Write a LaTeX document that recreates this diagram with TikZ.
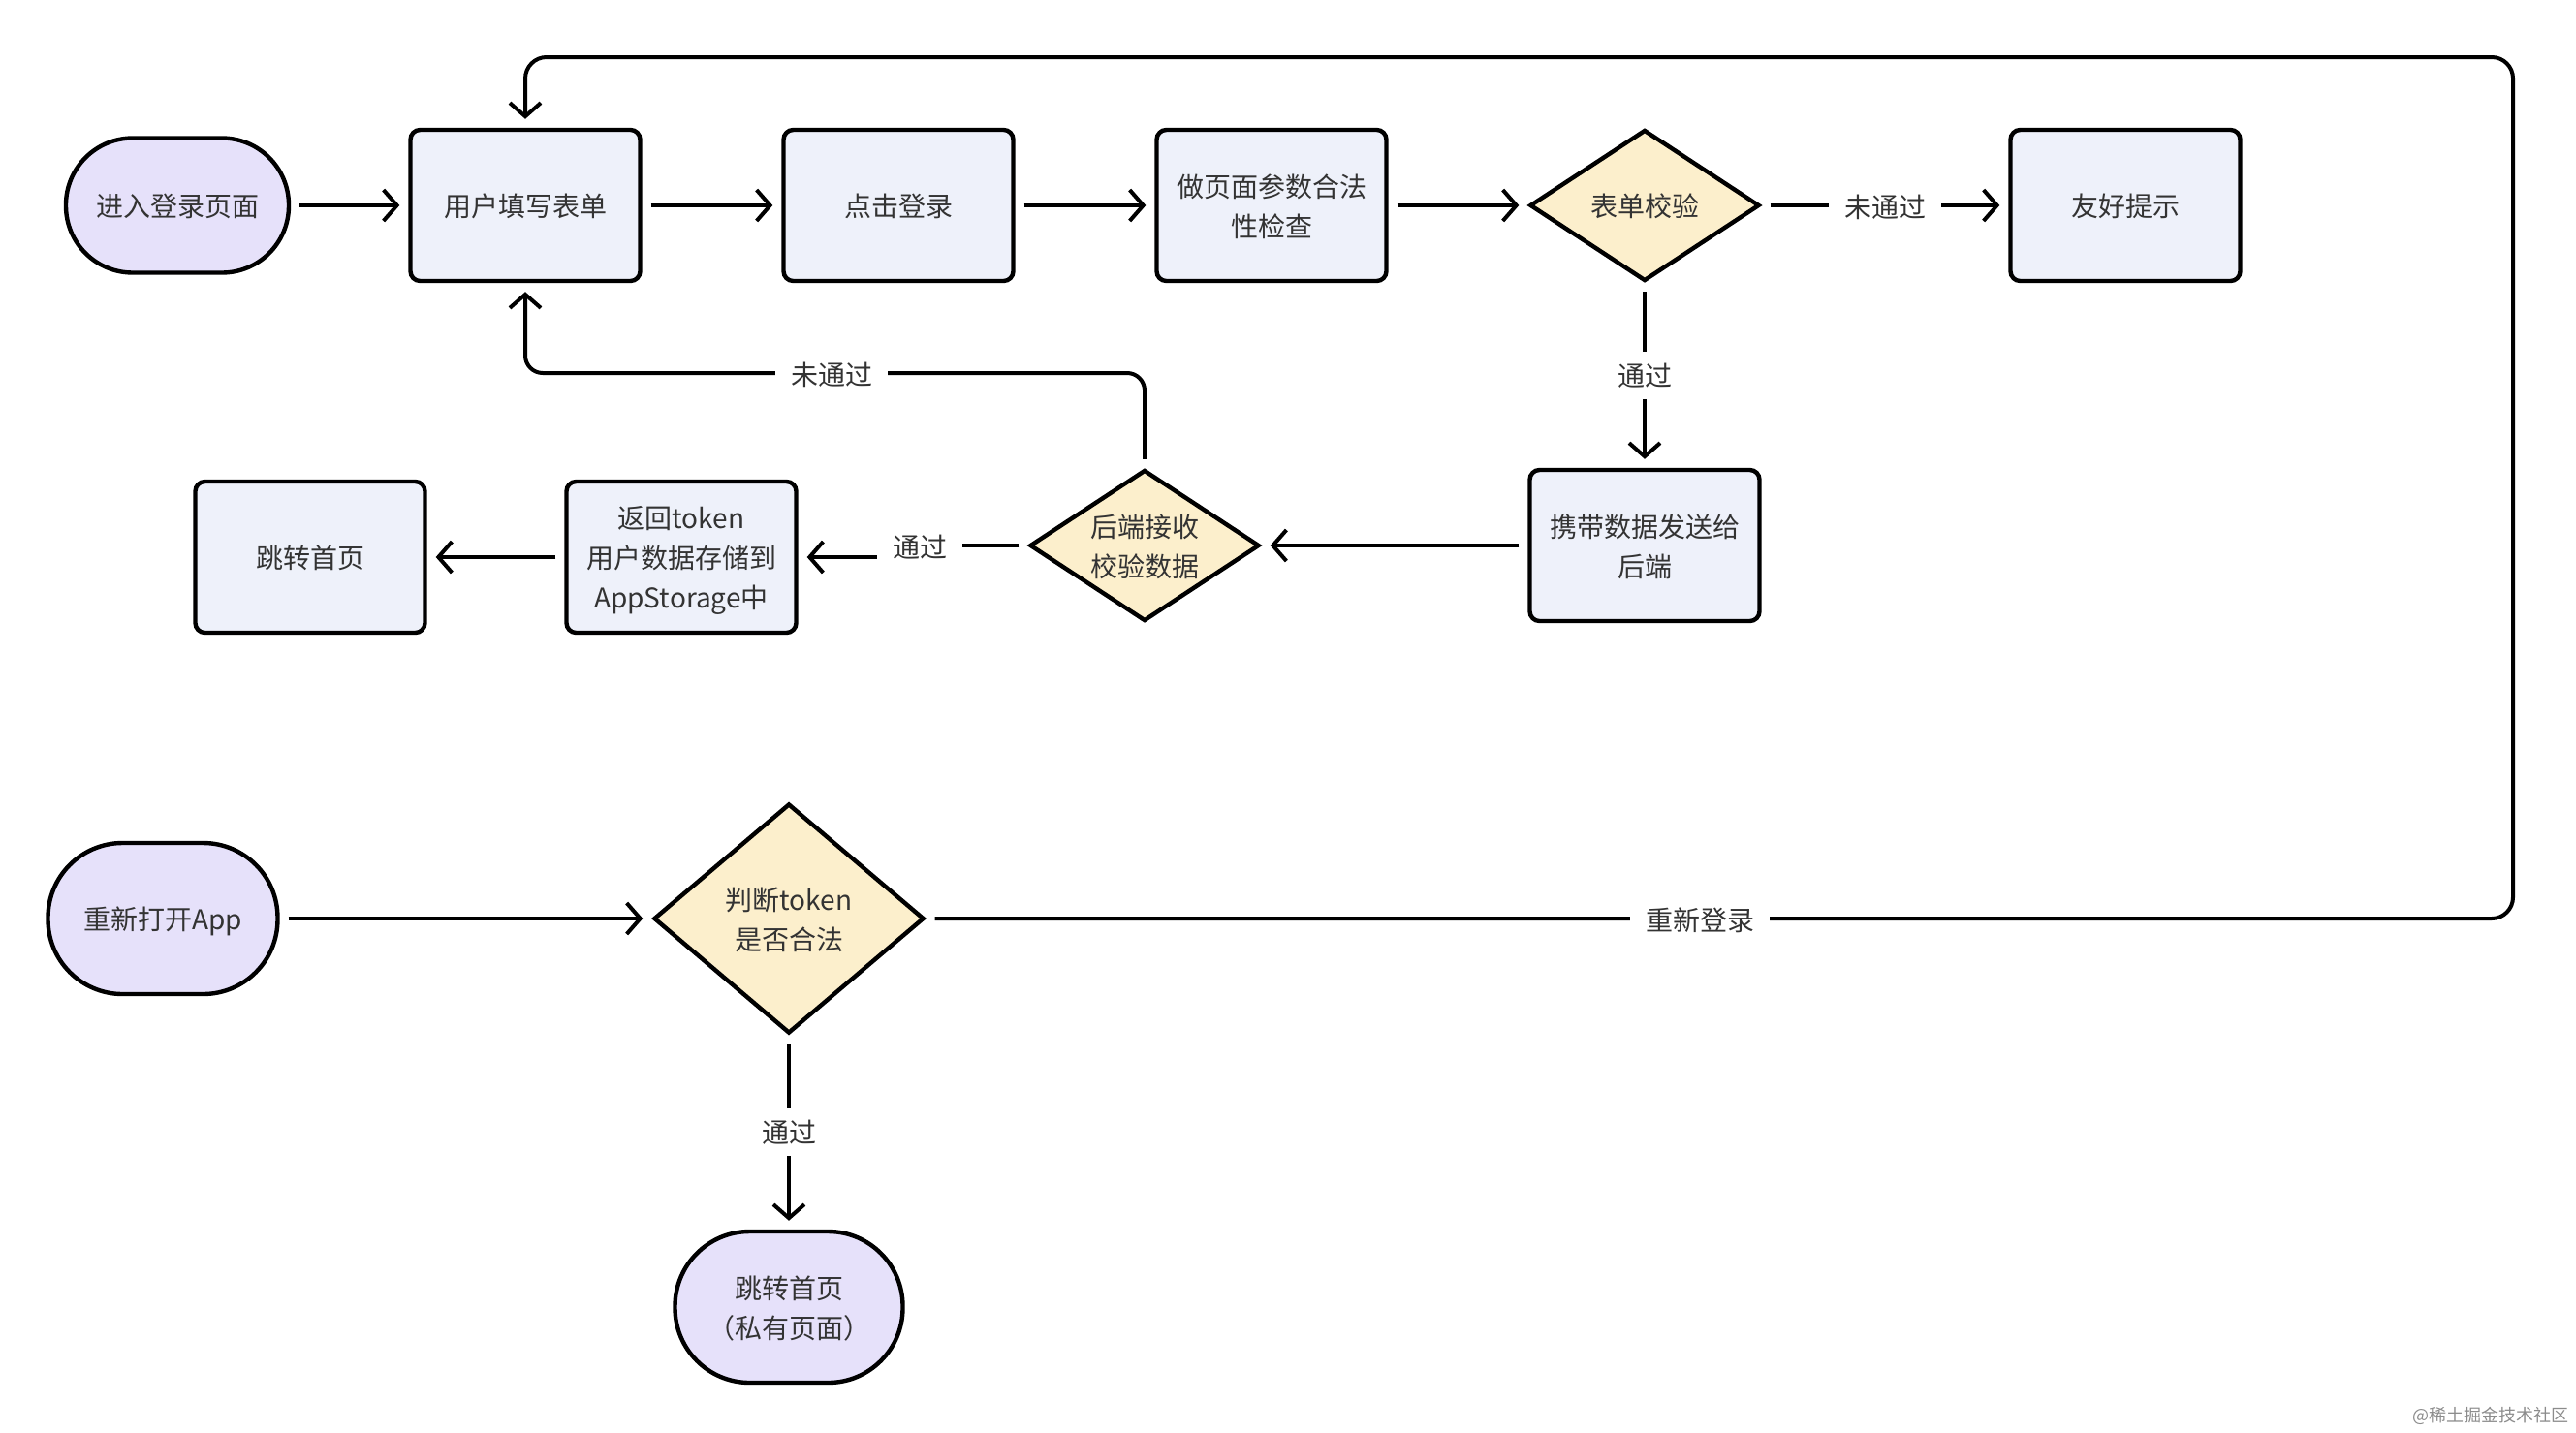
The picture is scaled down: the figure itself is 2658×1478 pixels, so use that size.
\documentclass[tikz,border=0pt]{standalone}
\usepackage{fontspec}
\setmainfont{Noto Sans CJK SC}
\usetikzlibrary{arrows.meta,shapes.geometric}
\definecolor{ovalfill}{HTML}{E6E1FA}
\definecolor{boxfill}{HTML}{EEF1FA}
\definecolor{diafill}{HTML}{FCEFCC}
\definecolor{txt}{HTML}{333333}
\newcommand{\diatext}[1]{\raisebox{-10.8pt}{\smash{\makebox[0pt]{\begin{tabular}{@{}c@{}}#1\end{tabular}}}}}
\begin{document}
\begin{tikzpicture}[x=0.5pt,y=-0.5pt,
  base/.style={draw=black, line width=2.2pt, text=txt, font=\fontsize{14pt}{20.5pt}\selectfont, align=center, inner sep=0pt},
  oval/.style={base, fill=ovalfill, minimum width=118.5pt, minimum height=78pt, rounded corners=38.5pt},
  stepbox/.style={base, fill=boxfill, rounded corners=5pt, minimum width=118.5pt, minimum height=78pt},
  decision/.style={base, fill=diafill, diamond, minimum width=118.5pt, minimum height=78pt},
  conn/.style={line width=2pt, -{Straight Barb[length=7pt,width=16pt]}, shorten >=4.5pt, shorten <=4.5pt},
  lbl/.style={fill=white, text=txt, font=\fontsize{14pt}{17pt}\selectfont, inner xsep=8pt, inner ysep=6pt}
]
\useasboundingbox (0,0) rectangle (2658,1478);

% nodes
\node[oval, minimum width=115pt, minimum height=69.5pt, rounded corners=34.5pt] (start) at (183,212) {\diatext{进入登录页面}};
\node[stepbox] (fill) at (542,212) {\diatext{用户填写表单}};
\node[stepbox] (click) at (927,212) {\diatext{点击登录}};
\node[stepbox] (check) at (1312,212) {\diatext{做页面参数合法\\性检查}};
\node[decision] (validate) at (1697,212) {\diatext{表单校验}};
\node[stepbox] (tip) at (2193,212) {\diatext{友好提示}};
\node[stepbox] (send) at (1697,563) {\diatext{携带数据发送给\\后端}};
\node[decision] (backend) at (1181,563) {\diatext{后端接收\\校验数据}};
\node[stepbox] (ret) at (703,575) {\diatext{返回token\\用户数据存储到\\AppStorage中}};
\node[stepbox] (home) at (320,575) {\diatext{跳转首页}};
\node[oval] (reopen) at (168,948) {\diatext{重新打开App}};
\node[decision, minimum width=139.5pt, minimum height=118.5pt] (judge) at (814,948) {\diatext{判断token\\是否合法}};
\node[oval, minimum width=117.5pt] (priv) at (814,1349) {\diatext{跳转首页\\（私有页面）}};

% helper coordinates
\coordinate (b1) at (1181,385);
\coordinate (b2) at (542,385);
\coordinate (r1) at (2593,948);
\coordinate (r2) at (2593,59);
\coordinate (r3) at (542,59);
\coordinate (j1) at (949,563);
\coordinate (j2) at (949,575);

% connectors
\draw[conn] (start) -- (fill);
\draw[conn] (fill) -- (click);
\draw[conn] (click) -- (check);
\draw[conn] (check) -- (validate);
\draw[conn] (validate) -- (tip) node[lbl, midway, yshift=-1pt] (l1) {未通过};
\draw[conn] (validate) -- (send) node[lbl, midway] (l2) {通过};
\draw[conn] (send) -- (backend);
\draw[conn] (backend.west) -- (j1) -- (j2) -- (ret.east);
\node[lbl] (l3) at (949,565) {通过};
\draw[conn, rounded corners=9pt] (backend.north) -- (b1) -- (b2) -- (fill.south);
\node[lbl] (l4) at (858,387) {未通过};
\draw[conn] (ret) -- (home);
\draw[conn] (reopen) -- (judge);
\draw[conn] (judge) -- (priv) node[lbl, midway] (l5) {通过};
\draw[conn, rounded corners=11pt] (judge.east) -- (r1) -- (r2) -- (r3) -- (fill.north);
\node[lbl] (l6) at (1754,950) {重新登录};

\node[text=black!45, font=\fontsize{9pt}{10pt}\selectfont, anchor=east, inner sep=0pt] (wm) at (2651,1461) {@稀土掘金技术社区};
\end{tikzpicture}
\end{document}
